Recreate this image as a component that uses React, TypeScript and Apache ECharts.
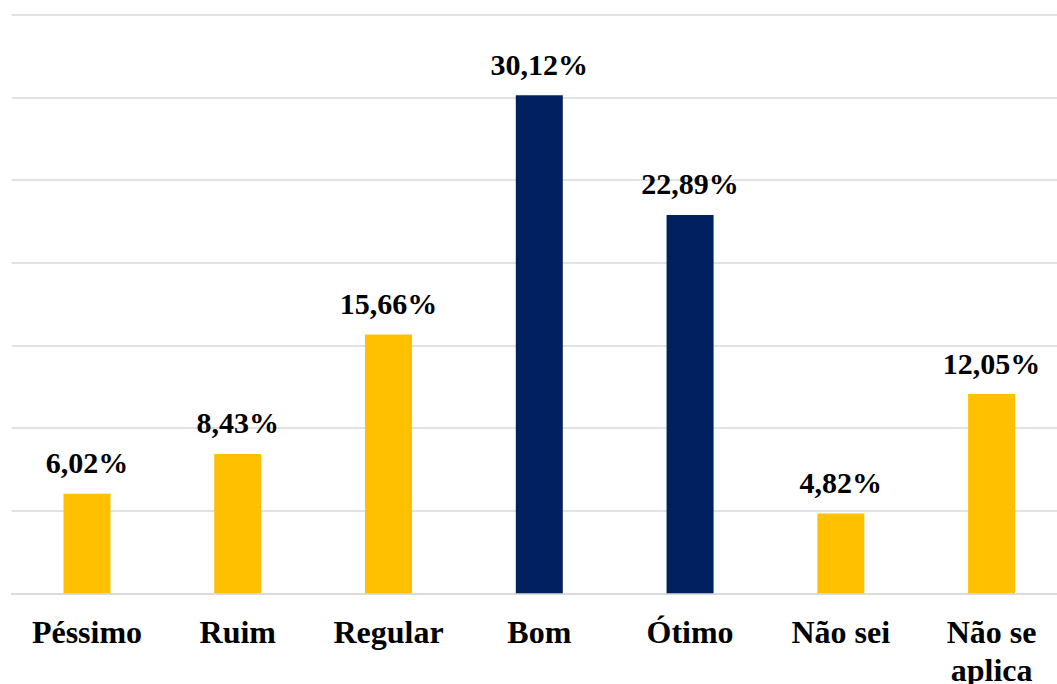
import React, { useEffect, useRef } from "react";
import * as echarts from "echarts";

const categories = ["Péssimo", "Ruim", "Regular", "Bom", "Ótimo", "Não sei", "Não se\naplica"];
const values = [6.02, 8.43, 15.66, 30.12, 22.89, 4.82, 12.05];
const barColors = ["#FFC000", "#FFC000", "#FFC000", "#002060", "#002060", "#FFC000", "#FFC000"];
const yMax = 35;
const yInterval = 5;

const FONT = "'Liberation Serif', 'Times New Roman', serif";

export default function App() {
  const ref = useRef<HTMLDivElement>(null);
  useEffect(() => {
    if (!ref.current) return;
    const chart = echarts.init(ref.current, null, { renderer: "svg" });
    chart.setOption({
      animation: false,
      backgroundColor: "#ffffff",
      textStyle: { fontFamily: FONT },
      grid: {
        left: 11.6,
        right: 0,
        top: 14.7,
        bottom: 90.7,
        containLabel: false,
        outerBoundsMode: "none",
      },
      xAxis: {
        type: "category",
        data: categories,
        axisLine: { show: true, lineStyle: { color: "#d9d9d9", width: 1.5 } },
        axisTick: { show: false },
        axisLabel: {
          interval: 0,
          margin: 20,
          color: "#000000",
          fontFamily: FONT,
          fontWeight: "bold",
          fontSize: 32,
          lineHeight: 38,
        },
      },
      yAxis: {
        type: "value",
        min: 0,
        max: yMax,
        interval: yInterval,
        axisLabel: { show: false },
        axisLine: { show: false },
        axisTick: { show: false },
        splitLine: { show: true, lineStyle: { color: "#d9d9d9", width: 1.5 } },
      },
      series: [
        {
          type: "bar",
          barWidth: 47,
          data: values.map((v, i) => ({ value: v, itemStyle: { color: barColors[i] } })),
          label: {
            show: true,
            position: "top",
            distance: 16,
            color: "#000000",
            fontFamily: FONT,
            fontWeight: "bold",
            fontSize: 30,
            formatter: (p: any) => p.value.toFixed(2).replace(".", ",") + "%",
          },
        },
      ],
    });
    return () => chart.dispose();
  }, []);
  return (
    <div
      style={{ position: "fixed", left: 0, top: 0, width: 1057, height: 684, overflow: "hidden", background: "#fff" }}
    >
      <div ref={ref} style={{ width: 1067, height: 684 }} />
    </div>
  );
}
